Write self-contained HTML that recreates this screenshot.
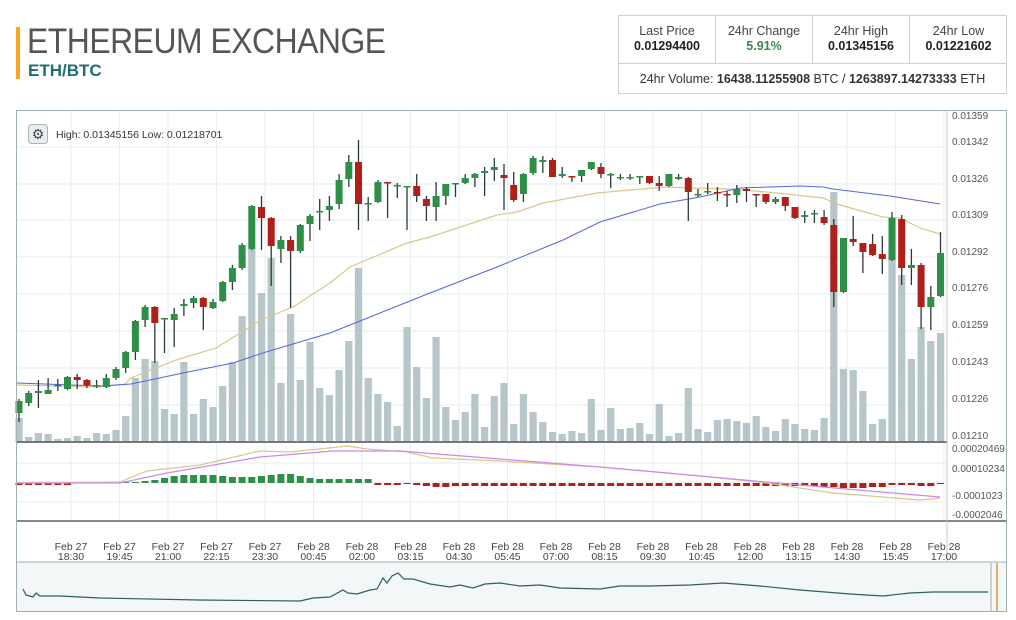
<!DOCTYPE html>
<html><head><meta charset="utf-8"><style>
body{margin:0;width:1016px;height:620px;background:#fff;font-family:"Liberation Sans",sans-serif;position:relative;overflow:hidden}
.bar{position:absolute;left:16px;top:27px;width:4px;height:52px;background:#f5a623}
.t{position:absolute;left:27px;top:22px;font-size:35px;color:#555;letter-spacing:-0.5px;transform:scaleX(0.91);transform-origin:0 0;white-space:nowrap}
.p{position:absolute;left:28px;top:61px;font-size:17px;color:#1d6f73;font-weight:bold}
.box{position:absolute;left:618px;top:15px;width:389px;height:79px;border:1px solid #c8d3d8;box-sizing:border-box}
.c{position:absolute;top:0;height:47px;width:97px;border-right:1px solid #c8d3d8;text-align:center;font-size:12.5px;color:#444;line-height:15px;padding-top:8px;box-sizing:border-box}
.c b{color:#222;font-size:12.5px}
.vol{position:absolute;left:0;top:47px;width:387px;border-top:1px solid #c8d3d8;text-align:center;font-size:12.5px;color:#333;line-height:30px}
</style></head><body>
<div class="bar"></div><div class="t">ETHEREUM EXCHANGE</div><div class="p">ETH/BTC</div>
<div class="box">
<div class="c" style="left:0">Last Price<br><b>0.01294400</b></div>
<div class="c" style="left:97px">24hr Change<br><b style="color:#3a8a4a">5.91%</b></div>
<div class="c" style="left:194px">24hr High<br><b>0.01345156</b></div>
<div class="c" style="left:291px;border-right:none">24hr Low<br><b>0.01221602</b></div>
<div class="vol">24hr Volume: <b>16438.11255908</b> BTC / <b>1263897.14273333</b> ETH</div>
</div>
<svg id="s" width="1016" height="620" style="position:absolute;left:0;top:0" font-family="Liberation Sans, sans-serif">
<g id="grid" stroke="#e8eeee" stroke-width="1"></g>
<g id="vols" fill="#b7c6c8"></g>
<polyline id="ma1" fill="none" stroke="#d9c88a" stroke-width="1.2"/>
<polyline id="ma2" fill="none" stroke="#5566dd" stroke-width="1"/>
<g id="cs"></g>
<g id="hist"></g>
<polyline id="m1" fill="none" stroke="#d9c88a" stroke-width="1.2"/>
<polyline id="m2" fill="none" stroke="#cc88ee" stroke-width="1.2"/>
<rect x="16" y="562" width="991" height="50" fill="#f3f7f7"/>
<polyline id="nav" fill="none" stroke="#2f5f5f" stroke-width="1.2"/>
<line x1="991" y1="563" x2="991" y2="611" stroke="#aaa"/><line x1="997" y1="563" x2="997" y2="611" stroke="#e0b070" stroke-width="2"/>
<line x1="16" y1="442" x2="947" y2="442" stroke="#777" stroke-width="2"/>
<line x1="16" y1="521" x2="1007" y2="521" stroke="#888" stroke-width="2"/>
<line x1="16" y1="562" x2="1007" y2="562" stroke="#9fb0b0"/>
<line x1="947" y1="110" x2="947" y2="562" stroke="#c0c8c8"/>
<rect x="16.5" y="110.5" width="990" height="501" fill="none" stroke="#9fb0b0"/>
<rect x="28.5" y="124.5" width="19" height="19" rx="3" fill="#e8eef0" stroke="#a8b4b8"/>
<text x="38" y="139" font-size="14" text-anchor="middle" fill="#445">⚙</text>
<text x="56" y="138" font-size="10.5" fill="#333">High: 0.01345156  Low: 0.01218701</text>
<g font-size="10" fill="#555">
<text x="952" y="119">0.01359</text><text x="952" y="145">0.01342</text><text x="952" y="182">0.01326</text><text x="952" y="218">0.01309</text><text x="952" y="255">0.01292</text><text x="952" y="291">0.01276</text><text x="952" y="328">0.01259</text><text x="952" y="365">0.01243</text><text x="952" y="402">0.01226</text><text x="952" y="439">0.01210</text>
<text x="952" y="452">0.00020469</text><text x="952" y="472">0.00010234</text><text x="952" y="499">-0.0001023</text><text x="952" y="518">-0.0002046</text>
</g>
<g id="tl" font-size="10.5" fill="#444" text-anchor="middle">
<text x="71" y="550">Feb 27</text><text x="71" y="560">18:30</text>
<text x="119.5" y="550">Feb 27</text><text x="119.5" y="560">19:45</text>
<text x="168" y="550">Feb 27</text><text x="168" y="560">21:00</text>
<text x="216.5" y="550">Feb 27</text><text x="216.5" y="560">22:15</text>
<text x="265" y="550">Feb 27</text><text x="265" y="560">23:30</text>
<text x="313.5" y="550">Feb 28</text><text x="313.5" y="560">00:45</text>
<text x="362" y="550">Feb 28</text><text x="362" y="560">02:00</text>
<text x="410.5" y="550">Feb 28</text><text x="410.5" y="560">03:15</text>
<text x="459" y="550">Feb 28</text><text x="459" y="560">04:30</text>
<text x="507.5" y="550">Feb 28</text><text x="507.5" y="560">05:45</text>
<text x="556" y="550">Feb 28</text><text x="556" y="560">07:00</text>
<text x="604.5" y="550">Feb 28</text><text x="604.5" y="560">08:15</text>
<text x="653" y="550">Feb 28</text><text x="653" y="560">09:30</text>
<text x="701.5" y="550">Feb 28</text><text x="701.5" y="560">10:45</text>
<text x="750" y="550">Feb 28</text><text x="750" y="560">12:00</text>
<text x="798.5" y="550">Feb 28</text><text x="798.5" y="560">13:15</text>
<text x="847" y="550">Feb 28</text><text x="847" y="560">14:30</text>
<text x="895.5" y="550">Feb 28</text><text x="895.5" y="560">15:45</text>
<text x="944" y="550">Feb 28</text><text x="944" y="560">17:00</text>
</g>
</svg>
<script>
var NS="http://www.w3.org/2000/svg";
function el(p,t,a){var e=document.createElementNS(NS,t);for(var k in a)e.setAttribute(k,a[k]);document.getElementById(p).appendChild(e);}
[147,184,220,257,294,331,368,405,463,482,502].forEach(function(y){el("grid","line",{x1:16,x2:947,y1:y,y2:y});});
for(var k=0;k<19;k++){var x=71+48.5*k;el("grid","line",{x1:x,x2:x,y1:111,y2:521});}
var D="401,413,399,422,g,418;393,403,391,406,g,437;391,393,380,408,g,433;390,394,378,394,g,434;385,386,379,391,c,439;377,389,376,390,g,438;377,380,374,389,r,436;380,385,379,388,r,438;385,386,380,388,c,433;378,387,374,388,g,434;369,378,367,380,g,430;352,368,351,373,g,416;321,352,320,360,g,378;307,320,305,327,g,359;307,323,306,363,r,361;318,319,318,353,c,409;314,320,308,347,g,414;304,306,299,316,g,362;298,303,296,308,g,414;298,307,297,330,r,399;302,308,299,309,g,407;282,301,281,302,g,386;268,282,265,290,g,362;245,268,243,270,g,316;206,249,205,250,g,249;207,218,196,250,r,293;218,246,217,286,r,258;240,249,236,263,g,383;240,251,236,308,r,314;225,251,224,253,g,380;216,224,214,241,g,342;211,212,199,230,g,388;206,210,196,221,g,395;180,204,174,209,g,370;162,179,155,187,g,341;162,204,140,230,r,268;203,204,197,221,c,378;182,202,180,203,g,394;182,183,182,218,r,402;185,186,183,198,c,426;186,187,186,230,c,327;186,196,174,202,r,367;199,206,196,221,r,398;196,207,182,221,g,337;184,196,184,205,g,407;183,184,183,197,c,420;178,183,174,184,g,412;174,178,173,187,g,394;171,173,167,196,g,427;167,170,158,181,g,396;175,178,164,210,r,383;185,200,172,202,r,424;174,194,173,202,g,394;158,173,156,175,g,412;160,162,156,173,g,422;160,177,158,177,r,432;174,176,167,178,g,434;176,177,176,182,r,431;170,176,170,182,g,433;162,169,162,170,g,399;167,174,163,178,r,430;174,175,173,188,c,408;177,178,174,180,c,429;177,178,174,180,c,428;176,177,176,184,c,423;176,183,176,184,r,434;183,186,176,191,r,436;174,186,174,187,g,433;177,179,174,180,g,388;178,192,177,221,r,429;194,195,189,197,g,432;191,192,183,194,g,420;192,193,187,201,r,419;194,195,191,207,r,421;189,195,185,203,g,423;189,191,187,202,r,416;194,195,194,207,r,427;194,202,194,204,r,431;199,202,197,204,g,419;197,206,197,211,r,424;207,218,207,219,r,429;215,217,211,223,g,430;213,214,210,223,g,418;217,223,210,225,r,192;225,292,219,307,r,369;238,292,238,293,g,370;239,242,216,246,r,391;243,252,243,273,r,424;244,255,234,256,r,419;254,259,236,274,r,253;218,260,212,261,g,275;219,268,215,285,r,359;265,268,249,285,g,327;265,307,263,329,r,341;297,307,286,330,g,333;253,296,232,297,g,333";
var VO=[404,436,433,388,429,432,420,419,421,423,416,427,431,419,424,429,430,418,192,369,370,391,424,419,255,275,359,327,341,333];
var rows=D.split(";");
rows.forEach(function(s,i){var a=s.split(",");var x=19+9.7*i;var v=i>=66?VO[i-66]:+a[5];
el("vols","rect",{x:x-3.6,y:v,width:7.2,height:442-v});});
rows.forEach(function(s,i){var a=s.split(",");var x=19+9.7*i;var t=+a[0],b=+a[1],wt=+a[2],wb=+a[3],c=a[4];
el("cs","line",{x1:x,x2:x,y1:wt,y2:wb,stroke:"#2a3a3a","stroke-width":1.3});
if(c=="c"){el("cs","rect",{x:x-3.5,y:t,width:7,height:1.5,fill:"#2e8b45"});}
else el("cs","rect",{x:x-3.5,y:t,width:7,height:Math.max(b-t,1.5),fill:c=="g"?"#2e9048":"#b0201a"});});
document.getElementById("ma1").setAttribute("points","17,385 100,387 125,384 131,378 176,360 216,348 261,320 293,307 330,283 350,267 407,243 430,237 497,215 517,212 543,203 597,193 630,190 667,187 690,188 733,189 777,193 823,198 840,205 883,217 900,218 920,228 940,234");
document.getElementById("ma2").setAttribute("points","17,383 100,386 131,384 183,373 233,363 266,352 330,333 430,293 497,267 563,240 600,222 660,204 700,197 740,188 800,186 823,187 833,189 890,196 940,204");
for(var i=0;i<96;i++){var x=19+9.7*i,h;
if(i<10){h=i<6?2:0;el("hist","rect",{x:x-3.5,y:483,width:7,height:h,fill:"#b0201a"});continue;}
if(i<37){var v=[1,1,1,2,3,5,7,8,8,8,8,7,6,6,6,7,8,9,9,7,5,4,4,4,4,4,4][i-10];el("hist","rect",{x:x-3.5,y:483-v,width:7,height:v,fill:"#2e9048"});continue;}
var r=[0,0,0,1,2,3,4,4,3,3,3,3,3,3,3,3,3,3,3,3,3,3,3,3,3,3,3,3,3,3,3,3,3,3,3,3,3,3,3,3,3,3,3,3,3,3,4,4,5,5,5,4,4,2,2,2,3,3,1][i-37]||2;
el("hist","rect",{x:x-3.5,y:483,width:7,height:r,fill:"#b0201a"});}
document.getElementById("m1").setAttribute("points","17,483 120,482 147,471 200,465 260,451 290,452 348,446 367,449 407,452 433,458 500,461 600,467 700,476 767,483 833,493 883,497 920,500 940,498");
document.getElementById("m2").setAttribute("points","17,483 120,483 167,473 260,457 333,451 400,451 500,459 600,467 700,476 800,485 893,493 940,497");
document.getElementById("nav").setAttribute("points","23,589 26,595 33,597 36,593 40,596 60,596 100,598 200,600 300,601 313,598 330,597 343,590 348,593 357,594 370,590 377,589 383,578 387,583 392,576 398,573 404,579 413,579 430,584 450,587 460,585 473,588 485,584 500,583 520,586 540,585 560,588 600,589 620,586 650,586 690,585 723,583 760,586 800,590 850,594 883,596 910,593 933,592 988,592");
</script>
</body></html>
